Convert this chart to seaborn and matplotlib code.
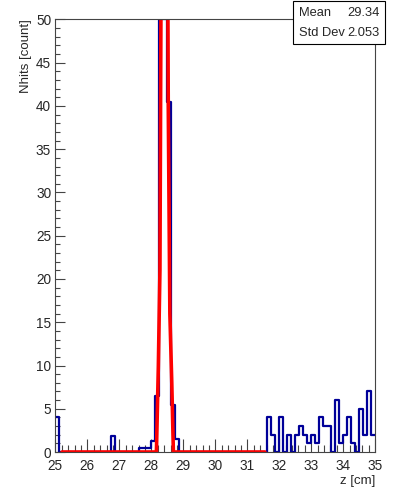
import numpy as np
import pandas as pd
import seaborn as sns
import matplotlib
matplotlib.use("Agg")
import matplotlib.pyplot as plt
from matplotlib.patches import Rectangle
from matplotlib.ticker import MultipleLocator

# ---------------- data ----------------
z_min, z_max, n_bins = 25.0, 35.0, 80
counts = (
    [4] + [0] * 13 + [1.8] + [0] * 6
    + [0.5, 0.5, 0.5, 1.3, 6.5, 50, 50, 40.5, 5.4, 1.5]
    + [0] * 22
    + [4, 2, 0, 4, 0, 2, 0, 2, 3, 2, 1, 2, 1, 4, 3, 3, 0, 6, 1, 2, 4, 1, 0, 5, 2, 7, 2]
)
fit_z = [25.21, 28.16, 28.22, 28.27, 28.335, 28.40, 28.465, 28.53, 28.58, 28.64, 28.69, 31.55]
fit_v = [0, 0, 9.9, 21, 83, 150, 105, 40, 16, 8, 0, 0]
stat_names = ["Mean", "Std Dev"]
stat_values = ["29.34", "2.053"]
x_title = "z [cm]"
y_title = "Nhits [count]"

# ---------------- figure ----------------
sns.set_theme(style="ticks")
plt.rcParams["font.family"] = ["Liberation Sans", "DejaVu Sans"]

W, H = 407, 490
fig = plt.figure(figsize=(W / 100, H / 100), dpi=100)
x0, x1, y_top, y_bot = 55.3, 375.3, 19.5, 452.0
ax = fig.add_axes([x0 / W, 1 - y_bot / H, (x1 - x0) / W, (y_bot - y_top) / H])

edges = np.linspace(z_min, z_max, n_bins + 1)
centers = 0.5 * (edges[:-1] + edges[1:])
df = pd.DataFrame({"z": centers, "w": counts})
sns.histplot(data=df, x="z", weights="w", bins=n_bins, binrange=(z_min, z_max),
             element="step", fill=False, color="#000099", linewidth=1.6, ax=ax)

fit_df = pd.DataFrame({"z": fit_z, "v": fit_v})
sns.lineplot(data=fit_df, x="z", y="v", sort=False, estimator=None, color="#ff0000",
             linewidth=2.6, ax=ax)

ax.set_xlim(z_min, z_max)
ax.set_ylim(0, 50)
ax.xaxis.set_major_locator(MultipleLocator(1))
ax.xaxis.set_minor_locator(MultipleLocator(0.2))
ax.yaxis.set_major_locator(MultipleLocator(5))
ax.yaxis.set_minor_locator(MultipleLocator(1))
ax.tick_params(axis="x", which="major", direction="in", length=9.4, width=0.8, color="#444444",
               labelsize=9.8, pad=5, top=False)
ax.tick_params(axis="x", which="minor", direction="in", length=4.7, width=0.8, color="#444444", top=False)
ax.tick_params(axis="y", which="major", direction="in", length=7.2, width=0.8, color="#444444",
               labelsize=9.8, pad=3, right=False)
ax.tick_params(axis="y", which="minor", direction="in", length=3.6, width=0.8, color="#444444", right=False)
for s in ax.spines.values():
    s.set_visible(True)
    s.set_linewidth(0.8)
    s.set_color("#444444")
ax.set_xlabel("")
ax.set_ylabel("")
ax.grid(False)

fig.text(x1 / W, 1 - 481 / H, x_title, ha="right", va="center", fontsize=9.5)
fig.text(26 / W, 1 - y_top / H, y_title, ha="center", va="top", rotation=90, fontsize=9.5)

# stats box
bx0, bx1, by0, by1 = 292.5, 384.5, 1.5, 44.0
fig.add_artist(Rectangle((bx0 / W, 1 - by1 / H), (bx1 - bx0) / W, (by1 - by0) / H,
                         transform=fig.transFigure, facecolor="white", edgecolor="black",
                         linewidth=0.8, zorder=10))
row_y = [12.5, 33.0]
for name, val, yy in zip(stat_names, stat_values, row_y):
    fig.text(299 / W, 1 - yy / H, name, ha="left", va="center", fontsize=9.3, zorder=11)
    fig.text(380 / W, 1 - yy / H, val, ha="right", va="center", fontsize=9.3, zorder=11)

fig.savefig("out.png", dpi=100)
